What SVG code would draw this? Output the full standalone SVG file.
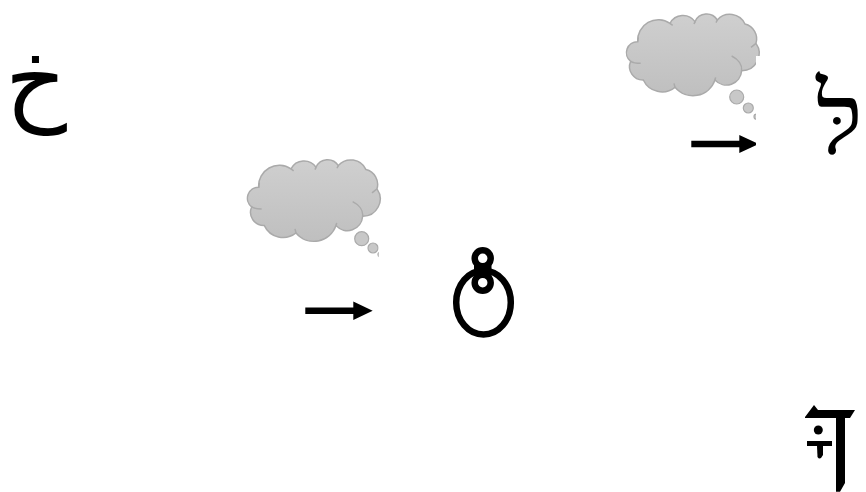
<svg xmlns="http://www.w3.org/2000/svg" width="866" height="492" viewBox="0 0 866 492">
<style>
.cloud{fill:url(#cg);stroke:#aaa;stroke-width:4.5}
.det{fill:none;stroke:#aaa;stroke-width:4.5}
.bub{fill:#c8c8c8;stroke:#aaa;stroke-width:1.2}
.ink{fill:none;stroke:#000;stroke-width:6.5}
</style>
<defs>
<linearGradient id="cg" x1="0" y1="0" x2="0" y2="1"><stop offset="0" stop-color="#cfcfcf"/><stop offset="1" stop-color="#bfbfbf"/></linearGradient>
<clipPath id="c1"><path d="M600 0H780V56H756V130H600Z"/></clipPath>
<clipPath id="c2"><path d="M230 150H390V225H378.7V270H230Z"/></clipPath>
<g id="cloudShape" transform="scale(.3333)">
<path class="cloud" d="M83 125A62 62 0 0 1 180 70A44 44 0 0 1 255 65A38 38 0 0 1 322 60A50 50 0 0 1 405 72A46 46 0 0 1 438 130A52 52 0 0 1 395 212A46 46 0 0 1 315 240A70 70 0 0 1 195 262A62 62 0 0 1 100 240A40 40 0 0 1 62 184A33 33 0 0 1 83 125Z"/>
<path class="det" d="M365 168C385 178 397 195 395 212M423 142L438 130M62 184C70 189 80 190 92 190M83 125L85 112M180 70L188 76M255 65L252 72M322 60L318 68M195 262L192 250M315 240L317 232"/>
</g>
</defs>
<rect width="866" height="492" fill="#fff"/>
<g id="thought-1" clip-path="url(#c1)">
<use href="#cloudShape" transform="translate(610 0)"/>
<circle class="bub" cx="736.7" cy="97" r="7"/><circle class="bub" cx="748.3" cy="108" r="5"/><circle class="bub" cx="756.5" cy="116.7" r="2.5"/>
</g>
<g id="thought-2" clip-path="url(#c2)">
<use href="#cloudShape" transform="translate(231 145.6)"/>
<circle class="bub" cx="361.7" cy="238.7" r="7"/><circle class="bub" cx="373" cy="248" r="5"/><circle class="bub" cx="380.5" cy="254.5" r="2.5"/>
</g>
<g id="connectors">
<path d="M691.3 140.8H739.3V135L756 142.7V145.3L739.3 153V147.2H691.3Z" fill="#000"/>
<path d="M305.3 307.4H353.3V301.5L372.7 310.7L353.3 320V314H305.3Z" fill="#000"/>
</g>
<g id="node-khah"><text x="5" y="113" font-size="96" font-family="'DejaVu Sans',sans-serif">خ</text></g>
<g id="node-lamed"><text x="816" y="153" font-size="100" font-family="'Liberation Serif',serif">לּ</text></g>
<g id="node-ring">
<ellipse class="ink" cx="483.5" cy="302.5" rx="27.3" ry="32"/>
<circle class="ink" cx="482.7" cy="258.3" r="8"/><circle class="ink" cx="482.7" cy="282.7" r="8"/>
<rect x="474" y="264" width="17.5" height="13" fill="#000"/>
</g>
<g id="node-bar">
<path d="M805 417L814 405L818 410H855L850 418H845V483L840 491.7H836V418H805Z" fill="#000"/>
<circle cx="818.3" cy="430" r="4.5" fill="#000"/>
<rect x="807" y="441" width="25" height="5" fill="#000"/>
<path d="M817 446H823L823 455Q820 461 817.5 457Z" fill="#000"/>
</g>
</svg>
